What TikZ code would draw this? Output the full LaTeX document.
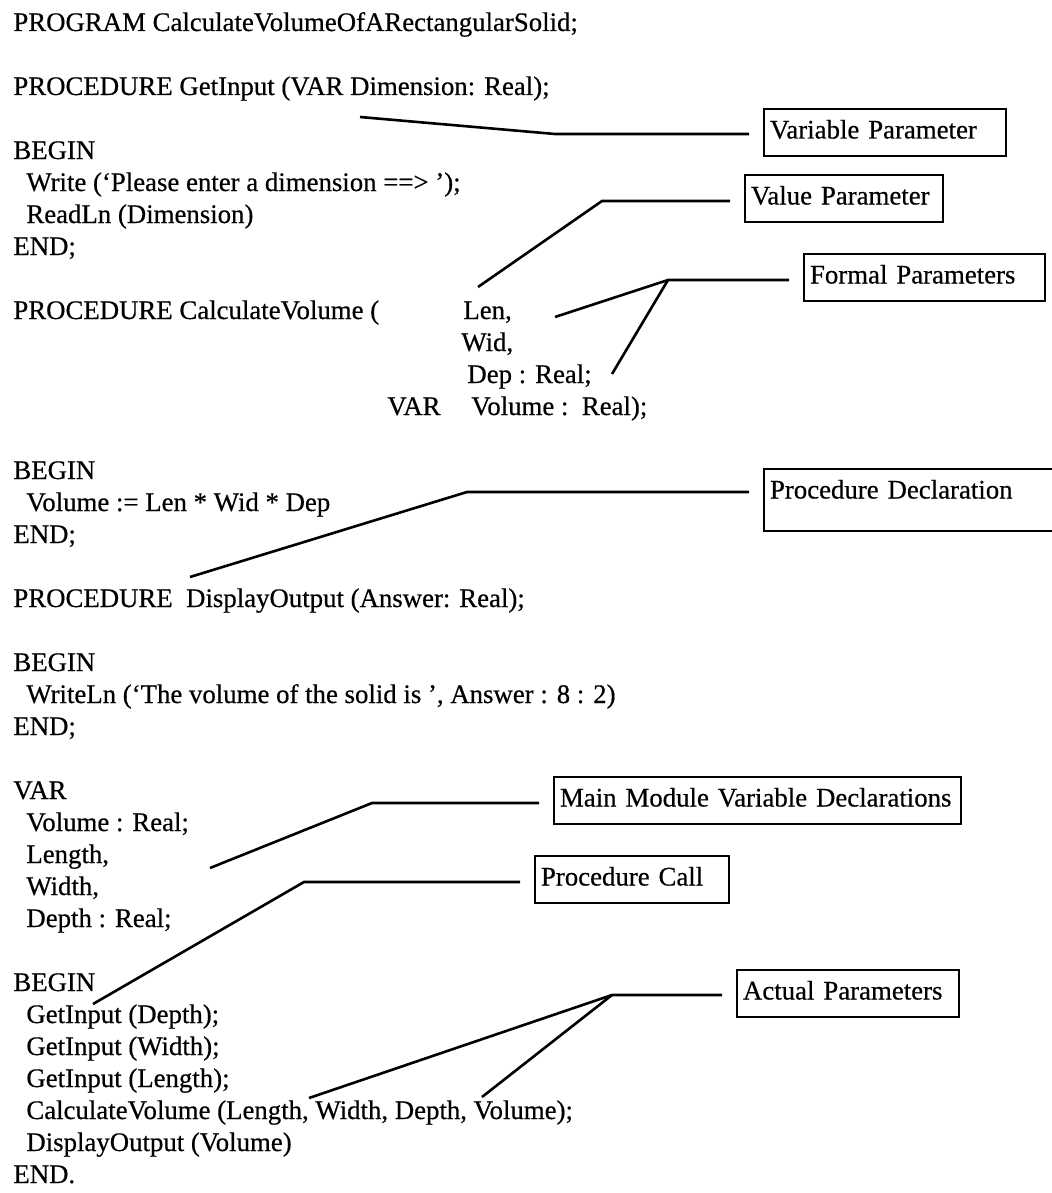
\documentclass[tikz,border=0pt]{standalone}
\usepackage{fontspec}
\setmainfont{Liberation Serif}[FakeBold=0.5]

\begin{document}
\begin{tikzpicture}[x=0.5pt, y=-0.5pt,
  code/.style={anchor=base west, inner sep=0pt, font=\fontsize{13.4}{16}\selectfont},
  note/.style={draw, line width=1pt, anchor=north west, inner xsep=3pt, inner ysep=0pt,
    minimum height=23.5pt, text height=9pt, text depth=3pt, align=left,
    font=\fontsize{13.4}{16}\selectfont},
  lead/.style={line width=1.3pt, shorten >=7pt}]
  \clip (0,0) rectangle (1052,1193);

  % the program text
  \node[code] (prog) at (13,31) {PROGRAM CalculateVolumeOfARectangularSolid;};
  \node[code] (gihead) at (13,95) {PROCEDURE GetInput (VAR Dimension: Real);};
  \node[code] (gibegin) at (13,159) {BEGIN};
  \node[code] (giwrite) at (26,191) {Write (‘Please enter a dimension ==> ’);};
  \node[code] (giread) at (26,223) {ReadLn (Dimension)};
  \node[code] (giend) at (13,255) {END;};
  \node[code] (cvhead) at (13,319) {PROCEDURE CalculateVolume (};
  \node[code] (cvlen) at (463,319) {Len,};
  \node[code] (cvwid) at (461,351) {Wid,};
  \node[code] (cvdep) at (467,383) {Dep : Real;};
  \node[code] (cvvar) at (387,415) {VAR};
  \node[code] (cvvol) at (471,415) {Volume :\ \ Real);};
  \node[code] (cvbegin) at (13,479) {BEGIN};
  \node[code] (cvcalc) at (26,511) {Volume := Len * Wid * Dep};
  \node[code] (cvend) at (13,543) {END;};
  \node[code] (dohead) at (13,607) {PROCEDURE\ \ DisplayOutput (Answer: Real);};
  \node[code] (dobegin) at (13,671) {BEGIN};
  \node[code] (dowrite) at (26,703) {WriteLn (‘The volume of the solid is ’, Answer : 8 : 2)};
  \node[code] (doend) at (13,735) {END;};
  \node[code] (mvar) at (13,799) {VAR};
  \node[code] (mvol) at (26,831) {Volume : Real;};
  \node[code] (mlen) at (26,863) {Length,};
  \node[code] (mwid) at (26,895) {Width,};
  \node[code] (mdep) at (26,927) {Depth : Real;};
  \node[code] (mbegin) at (13,991) {BEGIN};
  \node[code] (mget1) at (26,1023) {GetInput (Depth);};
  \node[code] (mget2) at (26,1055) {GetInput (Width);};
  \node[code] (mget3) at (26,1087) {GetInput (Length);};
  \node[code] (mcalc) at (26,1119) {CalculateVolume (Length, Width, Depth, Volume);};
  \node[code] (mshow) at (26,1151) {DisplayOutput (Volume)};
  \node[code] (mend) at (13,1183) {END.};

  % the labels
  \node[note, text width=115pt] (varpar) at (763,108) {Variable Parameter};
  \node[note, text width=93pt] (valpar) at (744,174) {Value Parameter};
  \node[note, text width=114.5pt] (formpar) at (803,253) {Formal Parameters};
  \node[note, text width=142.5pt, minimum height=31pt, text depth=10.5pt] (procdecl) at (763,468) {Procedure Declaration};
  \node[note, text width=197.5pt] (mainvar) at (553,776) {Main Module Variable Declarations};
  \node[note, text width=91pt] (proccall) at (534,855) {Procedure Call};
  \node[note, text width=105pt] (actpar) at (736,969) {Actual Parameters};

  % where the leaders point
  \coordinate (varEnd) at (360,117);
  \coordinate (varBend) at (555,134);
  \coordinate (valEnd) at (478,287);
  \coordinate (valBend) at (602,201);
  \coordinate (formLen) at (555,317);
  \coordinate (formDep) at (612,374);
  \coordinate (formBend) at (668,280);
  \coordinate (declEnd) at (190,577);
  \coordinate (declBend) at (467,492);
  \coordinate (mainEnd) at (210,868);
  \coordinate (mainBend) at (372,803);
  \coordinate (callEnd) at (93,1004);
  \coordinate (callBend) at (304,882);
  \coordinate (actLen) at (309,1098);
  \coordinate (actVol) at (482,1097);
  \coordinate (actBend) at (612,995);

  % leaders
  \draw[lead] (varEnd) -- (varBend) -- (varBend -| varpar.west);
  \draw[lead] (valEnd) -- (valBend) -- (valBend -| valpar.west);
  \draw[lead] (formLen) -- (formBend) -- (formBend -| formpar.west);
  \draw[lead, shorten >=0pt] (formDep) -- (formBend);
  \draw[lead] (declEnd) -- (declBend) -- (declBend -| procdecl.west);
  \draw[lead] (mainEnd) -- (mainBend) -- (mainBend -| mainvar.west);
  \draw[lead] (callEnd) -- (callBend) -- (callBend -| proccall.west);
  \draw[lead] (actLen) -- (actBend) -- (actBend -| actpar.west);
  \draw[lead, shorten >=0pt] (actVol) -- (actBend);
\end{tikzpicture}
\end{document}
